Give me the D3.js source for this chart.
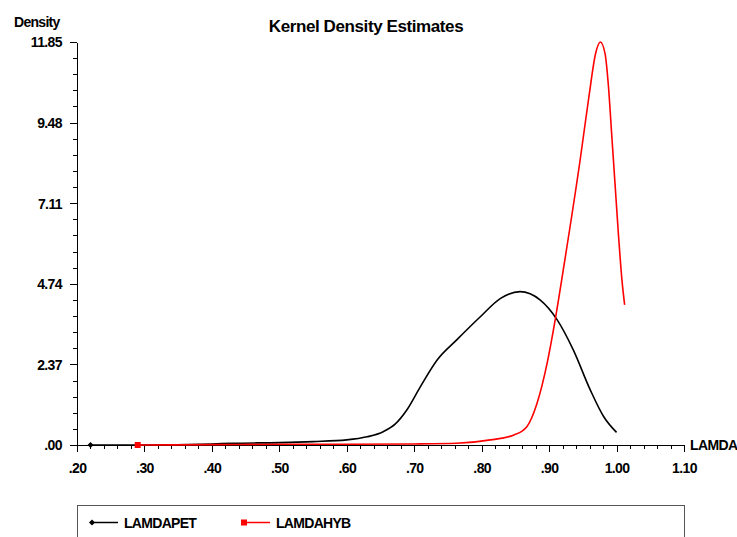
<!DOCTYPE html>
<meta charset="utf-8">
<style>
body { margin: 0; background: #fff; }
text { font-family: "Liberation Sans", Arial, sans-serif; font-weight: bold; fill: #000; }
.axis path, .axis line { stroke: #000; shape-rendering: crispEdges; }
</style>
<body>
<script src="https://cdn.jsdelivr.net/npm/d3@7"></script>
<script>
// density values
var petX = [0.22, 0.30, 0.40, 0.43, 0.50, 0.55, 0.60, 0.63, 0.654, 0.672, 0.689, 0.709, 0.734, 0.763, 0.798, 0.828, 0.857, 0.887, 0.912, 0.936, 0.961, 0.981, 1.000];
var petY = [0.00, 0.00, 0.03, 0.05, 0.07, 0.10, 0.15, 0.24, 0.39, 0.62, 1.03, 1.71, 2.50, 3.09, 3.77, 4.31, 4.51, 4.26, 3.68, 2.79, 1.62, 0.83, 0.37];

var hybX = [0.29, 0.40, 0.50, 0.60, 0.70, 0.763, 0.813, 0.847, 0.867, 0.882, 0.897, 0.909, 0.921, 0.946, 0.959, 0.969, 0.976, 0.983, 0.988, 0.993, 0.998, 1.003, 1.008, 1.012];
var hybY = [0.00, 0.01, 0.02, 0.02, 0.03, 0.05, 0.15, 0.29, 0.54, 1.22, 2.40, 3.68, 5.15, 8.38, 10.24, 11.52, 11.85, 11.50, 10.54, 9.07, 7.60, 6.13, 4.85, 4.12];

var yTicks = [0, 2.37, 4.74, 7.11, 9.48, 11.85];
var xTicks = [0.2, 0.3, 0.4, 0.5, 0.6, 0.7, 0.8, 0.9, 1.0, 1.1];
var seriesNames = ["LAMDAPET", "LAMDAHYB"];
var seriesColors = ["#000", "#f00"];

var W = 737, H = 537;
var svg = d3.select("body").append("svg").attr("width", W).attr("height", H);

var x = d3.scaleLinear().domain([0.2, 1.1]).range([77, 684]);
var y = d3.scaleLinear().domain([0, 11.85]).range([445, 42]);

function fmt(d) { return d3.format(".2f")(d).replace(/^0/, ""); }

// minor ticks
var xMinor = d3.range(0.2, 1.1001, 0.02);
var yMinor = d3.range(0, 11.851, 11.85 / 25);

svg.append("g")
    .attr("class", "axis")
    .attr("transform", "translate(0,445)")
    .call(d3.axisBottom(x).tickValues(xMinor).tickSize(4).tickFormat("").tickSizeOuter(0));
svg.append("g")
    .attr("class", "axis")
    .attr("transform", "translate(0,445)")
    .call(d3.axisBottom(x).tickValues(xTicks).tickSize(7).tickSizeOuter(0).tickFormat(fmt))
    .call(function(g) {
      g.selectAll("text").attr("font-size", 14).attr("dy", 0).attr("y", 28).attr("letter-spacing", -0.6);
    });

svg.append("g")
    .attr("class", "axis")
    .attr("transform", "translate(77,0)")
    .call(d3.axisLeft(y).tickValues(yMinor).tickSize(4).tickFormat("").tickSizeOuter(0));
svg.append("g")
    .attr("class", "axis")
    .attr("transform", "translate(77,0)")
    .call(d3.axisLeft(y).tickValues(yTicks).tickSize(7).tickSizeOuter(0).tickFormat(fmt))
    .call(function(g) {
      g.selectAll("text").attr("font-size", 14).attr("x", -15).attr("dy", "0.35em").attr("letter-spacing", -0.6);
    });

svg.append("text").attr("x", 366).attr("y", 32).attr("text-anchor", "middle")
    .attr("font-size", 17).attr("letter-spacing", -0.4).text("Kernel Density Estimates");
svg.append("text").attr("x", 14).attr("y", 27).attr("font-size", 14).attr("letter-spacing", -0.7).text("Density");
// axis label runs past the right edge, as in the original
svg.append("text").attr("x", 690).attr("y", 450).attr("font-size", 14).attr("letter-spacing", -0.6).text("LAMDAPET");

var line = d3.line()
    .x(function(d) { return x(d[0]); })
    .y(function(d) { return y(d[1]); })
    .curve(d3.curveMonotoneX);

var series = [d3.zip(petX, petY), d3.zip(hybX, hybY)];
series.forEach(function(pts, i) {
  svg.append("path")
      .datum(pts)
      .attr("fill", "none")
      .attr("stroke", seriesColors[i])
      .attr("stroke-width", 1.6)
      .attr("d", line);
});

function marker(g, i, cx, cy) {
  if (i === 0) {
    g.append("path").attr("d", "M" + (cx - 3) + "," + cy + "L" + cx + "," + (cy - 3) + "L" + (cx + 3) + "," + cy + "L" + cx + "," + (cy + 3) + "Z")
      .attr("fill", "#000");
  } else {
    g.append("rect").attr("x", cx - 3).attr("y", cy - 3).attr("width", 6).attr("height", 6).attr("fill", "#f00");
  }
}
var mk = svg.append("g");
marker(mk, 0, x(petX[0]), y(petY[0]));
marker(mk, 1, x(hybX[0]), y(hybY[0]));

// legend
svg.append("rect").attr("x", 77.5).attr("y", 505.5).attr("width", 607).attr("height", 60)
    .attr("fill", "none").attr("stroke", "#555");
var legX = [90, 242];
seriesNames.forEach(function(name, i) {
  var g = svg.append("g");
  g.append("line").attr("x1", legX[i]).attr("x2", legX[i] + 28).attr("y1", 522.5).attr("y2", 522.5)
      .attr("stroke", seriesColors[i]).attr("stroke-width", 1.5);
  marker(g, i, legX[i] + 2, 522.5);
  g.append("text").attr("x", legX[i] + 34).attr("y", 528).attr("font-size", 14).attr("letter-spacing", -0.7).text(name);
});
</script>
